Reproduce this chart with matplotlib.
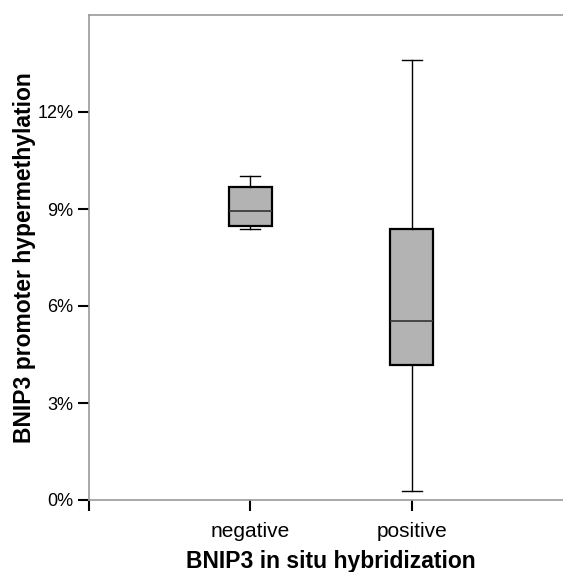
import matplotlib
matplotlib.use("Agg")
import matplotlib.pyplot as plt

plt.rcParams['font.family'] = ['Liberation Sans', 'DejaVu Sans']

groups = ["negative", "positive"]
whislo = [8.37, 0.28]
q1 = [8.47, 4.19]
med = [8.93, 5.55]
q3 = [9.67, 8.37]
whishi = [10.02, 13.61]
yticks = [0, 3, 6, 9, 12]

stats = []
for i, g in enumerate(groups):
    stats.append(dict(label=g, whislo=whislo[i], q1=q1[i], med=med[i],
                      q3=q3[i], whishi=whishi[i], fliers=[]))

fig = plt.figure(figsize=(5.63, 5.72), dpi=100)
ax = fig.add_axes([89 / 563, 72 / 572, 484 / 563, 485 / 572])

ax.bxp(stats, positions=[1, 2], widths=0.27, patch_artist=True,
       showfliers=False,
       boxprops=dict(facecolor="#b3b3b3", edgecolor="black", linewidth=1.6),
       medianprops=dict(color="#333333", linewidth=1.2),
       whiskerprops=dict(color="black", linewidth=1.0),
       capprops=dict(color="black", linewidth=1.0),
       capwidths=0.125)

ax.set_xlim(0, 3)
ax.set_ylim(0, 15)
ax.set_xticks([0, 1, 2])
ax.set_xticklabels(["", groups[0], groups[1]], fontsize=15)
ax.set_yticks(yticks)
ax.set_yticklabels(["%d%%" % v for v in yticks], fontsize=13)
ax.tick_params(axis="both", direction="out", length=8, width=1.5, color="black")
ax.tick_params(axis="y", pad=3)
ax.tick_params(axis="x", pad=8)
for s in ax.spines.values():
    s.set_color("#999999")
    s.set_linewidth(1.2)

ax.set_xlabel("BNIP3 in situ hybridization", fontsize=16.5, fontweight="bold", labelpad=6)
ax.set_ylabel("BNIP3 promoter hypermethylation", fontsize=16.5, fontweight="bold", labelpad=1)

fig.savefig("out.png", dpi=100)
